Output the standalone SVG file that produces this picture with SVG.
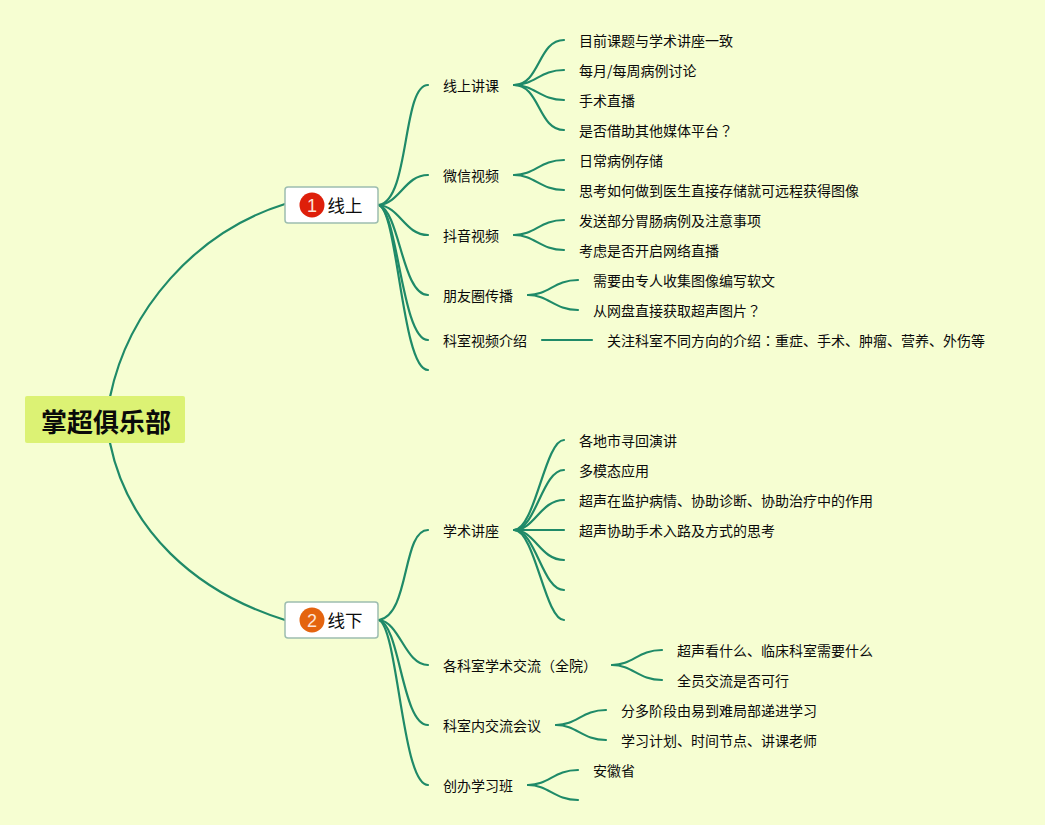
<svg xmlns="http://www.w3.org/2000/svg" width="1045" height="825" viewBox="0 0 1045 825">
<style>
text{font-family:"Noto Sans CJK SC","Liberation Sans",sans-serif;fill:#0a0a0a;font-size:14px}
.c path{fill:none;stroke:#1f8a68;stroke-width:2.2;stroke-linecap:round}
.box{fill:#fff;stroke:#9dbdb0;stroke-width:1.5}
.big{font-size:17.500px}
.num{font-family:"Liberation Sans",sans-serif;font-size:18px;fill:#fde4d8;text-anchor:middle}
.root{font-size:26px;font-weight:700}
.p{font-family:"Noto Sans CJK TC","Noto Sans CJK SC",sans-serif}
</style>
<rect width="1045" height="825" fill="#f6fed2"/>
<g class="c" id="connectors">
<path d="M110 397C128 310 195 232 285 204"/>
<path d="M110 443C128 530 195 592 285 620"/>
<path d="M379 205C410 200 402 85 428 85"/>
<path d="M379 205C400 203 405 175 428 175"/>
<path d="M379 205C400 207 405 235 428 235"/>
<path d="M379 205C400 212 402 295 428 295"/>
<path d="M379 205C398 213 402 340 428 340"/>
<path d="M379 205C398 212 402 370 428 370"/>
<path d="M514 85C540 85 538 40 564 40"/>
<path d="M514 85C535 85 540 70 564 70"/>
<path d="M514 85C535 85 540 100 564 100"/>
<path d="M514 85C540 85 538 130 564 130"/>
<path d="M514 175C535 175 540 160 564 160"/>
<path d="M514 175C535 175 540 190 564 190"/>
<path d="M514 235C535 235 540 220 564 220"/>
<path d="M514 235C535 235 540 250 564 250"/>
<path d="M528 295C549 295 554 280 578 280"/>
<path d="M528 295C549 295 554 310 578 310"/>
<path d="M542 340H592"/>
<path d="M379 620C410 615 402 530 428 530"/>
<path d="M379 620C400 622 405 665 428 665"/>
<path d="M379 620C400 625 402 725 428 725"/>
<path d="M379 620C398 628 402 785 428 785"/>
<path d="M514 530C535 530 545 440 564 440"/>
<path d="M514 530C536 530 542 470 564 470"/>
<path d="M514 530C535 530 540 500 564 500"/>
<path d="M514 530H564"/>
<path d="M514 530C535 530 540 560 564 560"/>
<path d="M514 530C536 530 542 590 564 590"/>
<path d="M514 530C535 530 545 620 564 620"/>
<path d="M612 665C633 665 638 650 662 650"/>
<path d="M612 665C633 665 638 680 662 680"/>
<path d="M556 725C577 725 582 710 606 710"/>
<path d="M556 725C577 725 582 740 606 740"/>
<path d="M528 785C549 785 554 770 578 770"/>
<path d="M528 785C549 785 554 800 578 800"/>
</g>
<g id="root"><rect x="25" y="396" width="160" height="47" rx="2" fill="#dcf274"/><text class="root" x="41" y="432">掌超俱乐部</text></g>
<g id="n1"><rect class="box" x="285" y="187" width="93" height="36" rx="3"/><circle cx="312" cy="205" r="12.500" fill="#de1f0a"/><text class="num" x="312" y="211.500">1</text><text class="big" x="327.500" y="212">线上</text></g>
<g id="n2"><rect class="box" x="285" y="602" width="93" height="36" rx="3"/><circle cx="312" cy="620" r="12.500" fill="#e4640f"/><text class="num" x="312" y="626.500">2</text><text class="big" x="327.500" y="627">线下</text></g>
<g id="a1"><text x="443" y="91">线上讲课</text></g>
<g id="a2"><text x="443" y="181">微信视频</text></g>
<g id="a3"><text x="443" y="241">抖音视频</text></g>
<g id="a4"><text x="443" y="301">朋友圈传播</text></g>
<g id="a5"><text x="443" y="346">科室视频介绍</text></g>
<g id="b1"><text x="443" y="536">学术讲座</text></g>
<g id="b2"><text x="443" y="671">各科室学术交流（全院）</text></g>
<g id="b3"><text x="443" y="731">科室内交流会议</text></g>
<g id="b4"><text x="443" y="791">创办学习班</text></g>
<g id="l1"><text x="579" y="46">目前课题与学术讲座一致</text></g>
<g id="l2"><text x="579" y="76">每月/每周病例讨论</text></g>
<g id="l3"><text x="579" y="106">手术直播</text></g>
<g id="l4"><text x="579" y="136">是否借助其他媒体平台<tspan class="p">？</tspan></text></g>
<g id="l5"><text x="579" y="166">日常病例存储</text></g>
<g id="l6"><text x="579" y="196">思考如何做到医生直接存储就可远程获得图像</text></g>
<g id="l7"><text x="579" y="226">发送部分胃肠病例及注意事项</text></g>
<g id="l8"><text x="579" y="256">考虑是否开启网络直播</text></g>
<g id="l9"><text x="593" y="286">需要由专人收集图像编写软文</text></g>
<g id="l10"><text x="593" y="316">从网盘直接获取超声图片<tspan class="p">？</tspan></text></g>
<g id="l11"><text x="607" y="346">关注科室不同方向的介绍<tspan class="p">：</tspan>重症、手术、肿瘤、营养、外伤等</text></g>
<g id="l12"><text x="579" y="446">各地市寻回演讲</text></g>
<g id="l13"><text x="579" y="476">多模态应用</text></g>
<g id="l14"><text x="579" y="506">超声在监护病情、协助诊断、协助治疗中的作用</text></g>
<g id="l15"><text x="579" y="536">超声协助手术入路及方式的思考</text></g>
<g id="l16"><text x="677" y="656">超声看什么、临床科室需要什么</text></g>
<g id="l17"><text x="677" y="686">全员交流是否可行</text></g>
<g id="l18"><text x="621" y="716">分多阶段由易到难局部递进学习</text></g>
<g id="l19"><text x="621" y="746">学习计划、时间节点、讲课老师</text></g>
<g id="l20"><text x="593" y="776">安徽省</text></g>
</svg>
